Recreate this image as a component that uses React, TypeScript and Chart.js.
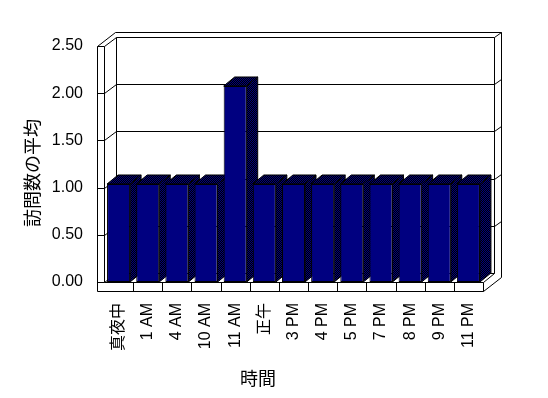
import React, { useEffect, useRef } from 'react';
import { Chart, registerables } from 'chart.js';

Chart.register(...registerables);

const categories = ['真夜中', '1 AM', '4 AM', '10 AM', '11 AM', '正午', '3 PM', '4 PM', '5 PM', '7 PM', '8 PM', '9 PM', '11 PM'];
const visitAverages = [1, 1, 1, 1, 2, 1, 1, 1, 1, 1, 1, 1, 1];
const yTickValues = [0, 0.5, 1, 1.5, 2, 2.5];
const yAxisTitle = '訪問数の平均';
const xAxisTitle = '時間';

const LATIN_FONT = "'Liberation Sans', Arial, 'Noto Sans CJK JP', sans-serif";
const CJK_FONT = "'Noto Sans CJK JP', 'Liberation Sans', sans-serif";

function makeDither(): CanvasPattern | string {
  const c = document.createElement('canvas');
  c.width = 2;
  c.height = 2;
  const g = c.getContext('2d');
  if (!g) return '#000040';
  g.fillStyle = '#000000';
  g.fillRect(0, 0, 2, 2);
  g.fillStyle = '#000080';
  g.fillRect(0, 0, 1, 1);
  g.fillRect(1, 1, 1, 1);
  const p = g.createPattern(c, 'repeat');
  return p || '#000040';
}

function seg(ctx: CanvasRenderingContext2D, x1: number, y1: number, x2: number, y2: number) {
  const a = (v: number) => Math.round(v) + 0.5;
  ctx.beginPath();
  ctx.moveTo(a(x1), a(y1));
  ctx.lineTo(a(x2), a(y2));
  ctx.stroke();
}

export default function App() {
  const ref = useRef<HTMLCanvasElement | null>(null);

  useEffect(() => {
    const canvas = ref.current;
    if (!canvas) return;
    const dither = makeDither();

    const frame3d = {
      id: 'frame3d',
      beforeDatasetsDraw(chart: any) {
        const { ctx, chartArea: a, scales } = chart;
        const y = scales.y;
        const xs = scales.x;
        const L = a.left;
        const R = a.right;
        const B = a.bottom;
        const T = y.getPixelForValue(2.5);
        ctx.save();
        ctx.strokeStyle = '#000';
        ctx.lineWidth = 1;
        // back wall
        seg(ctx, L + 12, T - 9, R + 11, T - 9);
        seg(ctx, L + 12, T - 9, L + 12, B - 9);
        seg(ctx, R + 11, T - 9, R + 11, B - 9);
        seg(ctx, L + 12, B - 9, R + 11, B - 9);
        for (const v of yTickValues) {
          const py = y.getPixelForValue(v);
          if (v > 0 && v < 2.5) {
            seg(ctx, L + 12, py - 9, R + 11, py - 9);
            seg(ctx, R + 11, py - 9, R + 18, py - 14);
          }
          seg(ctx, L, py, L + 12, py - 9);
          seg(ctx, L - 7, py, L, py);
        }
        // outer top of walls
        seg(ctx, L - 7, T, L + 11, T - 14);
        seg(ctx, L + 11, T - 14, R + 18, T - 14);
        seg(ctx, R + 11, T - 9, R + 18, T - 14);
        seg(ctx, R + 18, T - 14, R + 18, B - 5);
        // left wall
        seg(ctx, L - 7, T, L - 7, B + 9);
        seg(ctx, L, T, L, B);
        // floor
        seg(ctx, L, B, R, B);
        seg(ctx, L - 7, B + 9, R, B + 9);
        seg(ctx, R, B, R, B + 9);
        seg(ctx, R, B, R + 11, B - 9);
        seg(ctx, R, B + 9, R + 18, B - 5);
        for (let i = 0; i < categories.length - 1; i++) {
          const bx = (xs.getPixelForValue(i) + xs.getPixelForValue(i + 1)) / 2;
          seg(ctx, bx, B, bx, B + 9);
        }
        // bar depth faces
        const meta = chart.getDatasetMeta(0);
        const dx = 11;
        const dy = -9;
        ctx.fillStyle = dither;
        for (const el of meta.data) {
          const p = el.getProps(['x', 'y', 'base', 'width'], true);
          const l = p.x - p.width / 2;
          const r = p.x + p.width / 2;
          const t = p.y;
          const b = p.base;
          ctx.beginPath();
          ctx.moveTo(r, t);
          ctx.lineTo(r + dx, t + dy);
          ctx.lineTo(r + dx, b + dy);
          ctx.lineTo(r, b);
          ctx.closePath();
          ctx.fill();
          ctx.stroke();
          ctx.beginPath();
          ctx.moveTo(l, t);
          ctx.lineTo(l + dx, t + dy);
          ctx.lineTo(r + dx, t + dy);
          ctx.lineTo(r, t);
          ctx.closePath();
          ctx.fill();
          ctx.stroke();
        }
        ctx.restore();
      },
      afterDraw(chart: any) {
        const { ctx, chartArea: a } = chart;
        ctx.save();
        ctx.fillStyle = '#000';
        ctx.font = "18px " + CJK_FONT;
        ctx.textAlign = 'center';
        ctx.textBaseline = 'middle';
        ctx.fillText(xAxisTitle, a.left + 154, a.bottom + 96);
        ctx.translate(a.left - 72, (a.top + a.bottom) / 2 + 9);
        ctx.rotate(-Math.PI / 2);
        ctx.fillText(yAxisTitle, 0, 0);
        ctx.restore();
      },
    };

    const chart = new Chart(canvas, {
      type: 'bar',
      data: {
        labels: categories,
        datasets: [
          {
            label: yAxisTitle,
            data: visitAverages,
            yAxisID: 'yb',
            backgroundColor: '#000080',
            borderColor: '#000000',
            borderWidth: 1,
            borderSkipped: false,
            barPercentage: 0.79,
            categoryPercentage: 1,
          },
        ],
      },
      options: {
        responsive: false,
        animation: false,
        devicePixelRatio: 1,
        layout: { padding: { top: 46, right: 65, left: 0, bottom: 0 } },
        plugins: { legend: { display: false }, tooltip: { enabled: false }, title: { display: false } },
        scales: {
          x: {
            offset: true,
            grid: { display: false, drawTicks: false },
            border: { display: false },
            ticks: {
              autoSkip: false,
              maxRotation: 90,
              minRotation: 90,
              padding: 21,
              color: '#000',
              font: { family: LATIN_FONT, size: 16 },
            },
            afterFit(scale: any) {
              scale.height = 116;
            },
          },
          y: {
            min: 0,
            max: 2.5,
            grid: { display: true, drawOnChartArea: false, drawTicks: false, color: 'rgba(0,0,0,0)' },
            border: { display: false },
            afterBuildTicks(scale: any) {
              scale.ticks = yTickValues.map((v) => ({ value: v }));
            },
            ticks: {
              padding: 21,
              color: '#000',
              font: { family: LATIN_FONT, size: 16 },
              callback: (v: any) => Number(v).toFixed(2),
            },
            afterFit(scale: any) {
              scale.width = 104;
            },
          },
          yb: {
            display: false,
            min: 0,
            max: 2.408,
          },
        },
      },
      plugins: [frame3d],
    });

    return () => chart.destroy();
  }, []);

  return (
    <div style={{ position: 'absolute', left: 0, top: 0, width: 548, height: 398, background: '#fff' }}>
      <canvas ref={ref} width={548} height={398} style={{ display: 'block' }} />
    </div>
  );
}
